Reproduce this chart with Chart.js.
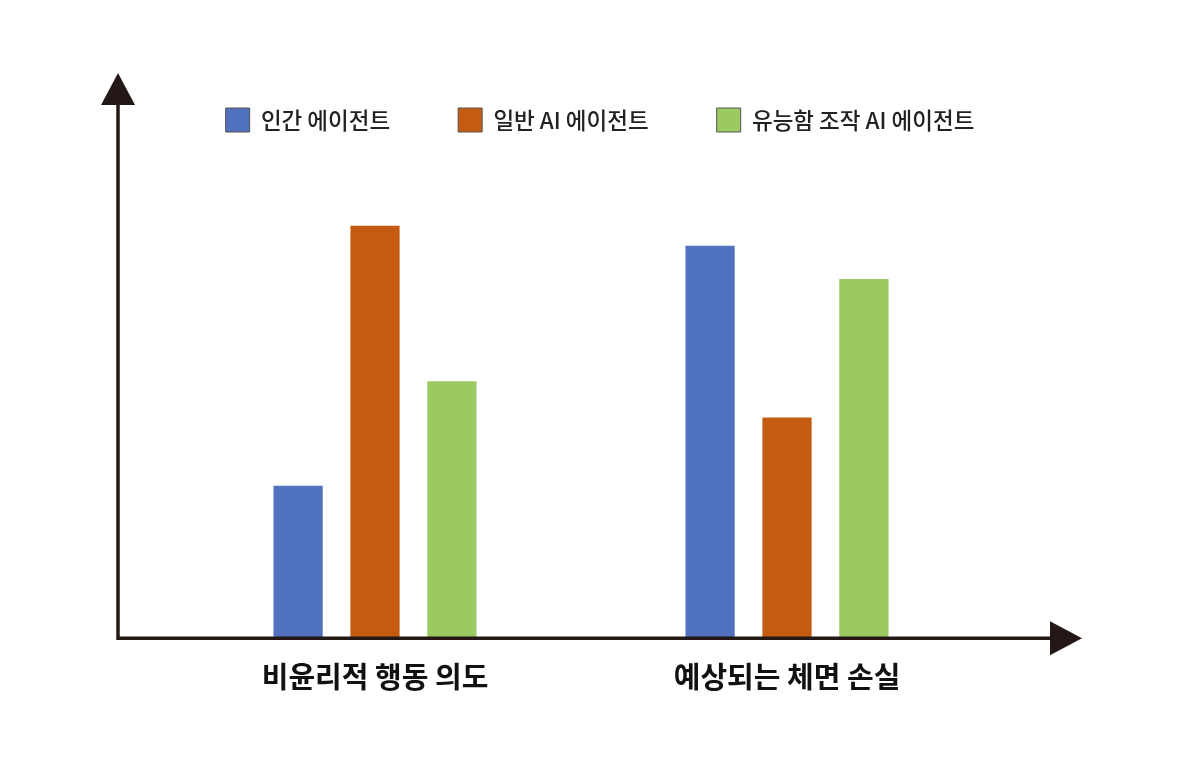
<!DOCTYPE html>
<html>
<head>
<meta charset="utf-8">
<script src="https://cdn.jsdelivr.net/npm/chart.js@4.4.0/dist/chart.umd.min.js"></script>
<style>
  html, body { margin: 0; padding: 0; background: #fff; }
  #wrap { width: 1200px; height: 769px; }
</style>
</head>
<body>
<div id="wrap"><canvas id="chart"></canvas></div>
<script>
// Data //
var categories = ["비윤리적 행동 의도", "예상되는 체면 손실"];
var seriesNames = ["인간 에이전트", "일반 AI 에이전트", "유능함 조작 AI 에이전트"];
var humanAgent = [30.7, 79.1];
var generalAI = [83.1, 44.5];
var competentAI = [51.8, 72.4];
var seriesColors = ["#4F71BE", "#C55A11", "#9BCA63"];

// each category sits at x = 0, 1 on a linear axis
function toPoints(values) {
  return values.map(function(v, i) { return { x: i, y: v }; });
}

var axisColor = "#231815";

// arrows on the axes
var arrowAxes = {
  id: "arrowAxes",
  afterDatasetsDraw: function(chart) {
    var ctx = chart.ctx;
    var a = chart.chartArea;
    var x0 = a.left;
    var y0 = a.bottom;
    ctx.save();
    ctx.strokeStyle = axisColor;
    ctx.fillStyle = axisColor;
    ctx.lineWidth = 3.5;
    ctx.beginPath();
    ctx.moveTo(x0, 100);
    ctx.lineTo(x0, y0);
    ctx.lineTo(a.right - 30, y0);
    ctx.stroke();
    // up arrow
    ctx.beginPath();
    ctx.moveTo(x0, 73);
    ctx.lineTo(x0 + 17, 105);
    ctx.lineTo(x0 - 17, 105);
    ctx.closePath();
    ctx.fill();
    // right arrow
    ctx.beginPath();
    ctx.moveTo(a.right, y0);
    ctx.lineTo(a.right - 32, y0 - 17);
    ctx.lineTo(a.right - 32, y0 + 17);
    ctx.closePath();
    ctx.fill();
    ctx.restore();
  }
};

var ctx = document.getElementById("chart").getContext("2d");
var chart = new Chart(ctx, {
  type: "bar",
  data: {
    datasets: [{
      label: seriesNames[0],
      data: toPoints(humanAgent),
      backgroundColor: seriesColors[0]
    }, {
      label: seriesNames[1],
      data: toPoints(generalAI),
      backgroundColor: seriesColors[1]
    }, {
      label: seriesNames[2],
      data: toPoints(competentAI),
      backgroundColor: seriesColors[2]
    }]
  },
  options: {
    responsive: true,
    maintainAspectRatio: false,
    animation: false,
    categoryPercentage: 0.56,
    barPercentage: 0.64,
    layout: {
      padding: { top: 40, left: 118, right: 118, bottom: 62 }
    },
    plugins: {
      tooltip: { enabled: false },
      legend: {
        display: true,
        position: "top",
        labels: {
          boxWidth: 24,
          boxHeight: 24,
          padding: 68,
          color: "#222",
          font: { family: "'Noto Sans CJK KR', 'Noto Sans', sans-serif", size: 22.5, weight: "500" },
          generateLabels: function(chart) {
            return chart.data.datasets.map(function(ds, i) {
              return {
                text: ds.label,
                fillStyle: ds.backgroundColor,
                strokeStyle: "#555",
                lineWidth: 1,
                fontColor: "#222",
                datasetIndex: i
              };
            });
          }
        }
      }
    },
    scales: {
      x: {
        type: "linear",
        offset: false,
        min: -0.6238,
        max: 1.716,
        grid: { display: false },
        border: { display: false },
        ticks: {
          stepSize: 1,
          includeBounds: false,
          autoSkip: false,
          maxRotation: 0,
          padding: 13,
          color: "#111",
          font: { family: "'Noto Sans CJK KR', 'Noto Sans', sans-serif", size: 29, weight: "bold" },
          callback: function(value) {
            return Number.isInteger(value) && categories[value] ? categories[value] : "";
          }
        }
      },
      y: {
        display: false,
        min: 0,
        max: 100
      }
    }
  },
  plugins: [arrowAxes]
});
</script>
</body>
</html>
